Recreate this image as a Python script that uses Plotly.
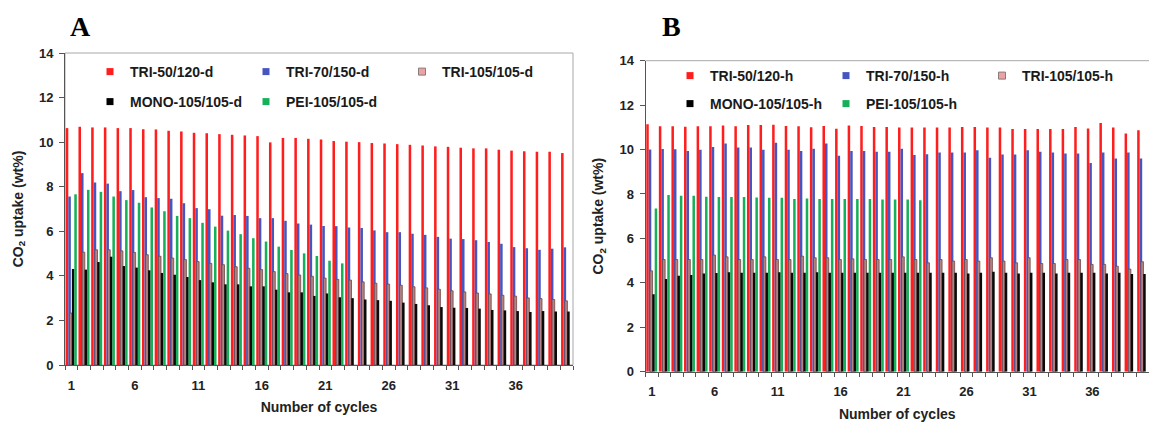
import plotly.graph_objects as go

# ---------------- data ----------------
cycles = list(range(1, 41))
tick_labels = [1, 6, 11, 16, 21, 26, 31, 36]

names_a = ["TRI-50/120-d", "TRI-70/150-d", "TRI-105/105-d", "MONO-105/105-d", "PEI-105/105-d"]
names_b = ["TRI-50/120-h", "TRI-70/150-h", "TRI-105/105-h", "MONO-105/105-h", "PEI-105/105-h"]

a_tri50 = [10.63, 10.69, 10.66, 10.66, 10.63, 10.63, 10.58, 10.57, 10.51, 10.48,
           10.42, 10.40, 10.36, 10.33, 10.30, 10.27, 9.99, 10.19, 10.19, 10.15,
           10.12, 10.05, 10.02, 10.00, 9.96, 9.94, 9.91, 9.88, 9.85, 9.81,
           9.79, 9.75, 9.72, 9.72, 9.66, 9.62, 9.59, 9.57, 9.57, 9.51]
a_tri70 = [7.56, 8.61, 8.19, 8.14, 7.80, 7.85, 7.53, 7.49, 7.46, 7.26,
           7.04, 6.99, 6.70, 6.73, 6.69, 6.59, 6.59, 6.47, 6.35, 6.30,
           6.24, 6.23, 6.17, 6.15, 6.04, 5.96, 5.96, 5.89, 5.84, 5.75,
           5.67, 5.65, 5.60, 5.52, 5.44, 5.29, 5.24, 5.17, 5.22, 5.28]
a_tri105 = [2.33, 5.06, 5.17, 5.17, 5.12, 5.05, 4.95, 4.88, 4.80, 4.73,
            4.64, 4.56, 4.50, 4.41, 4.34, 4.28, 4.19, 4.10, 4.04, 3.98,
            3.90, 3.84, 3.81, 3.73, 3.67, 3.63, 3.58, 3.51, 3.46, 3.40,
            3.33, 3.28, 3.23, 3.19, 3.13, 3.09, 3.01, 2.98, 2.94, 2.88]
a_mono = [4.31, 4.28, 4.62, 4.86, 4.44, 4.37, 4.25, 4.13, 4.05, 3.95,
          3.81, 3.71, 3.62, 3.62, 3.53, 3.53, 3.38, 3.26, 3.26, 3.10,
          3.21, 3.04, 3.00, 2.94, 2.91, 2.88, 2.80, 2.74, 2.68, 2.60,
          2.57, 2.56, 2.53, 2.47, 2.45, 2.42, 2.38, 2.42, 2.40, 2.40]
a_pei = [7.66, 7.86, 7.77, 7.56, 7.40, 7.28, 7.07, 6.90, 6.69, 6.59,
         6.38, 6.21, 6.03, 5.87, 5.69, 5.54, 5.31, 5.16, 5.01, 4.89,
         4.68, 4.56]

b_tri50 = [11.14, 11.05, 11.05, 11.03, 11.05, 11.05, 11.08, 11.05, 11.11, 11.11,
           11.12, 11.06, 11.05, 11.00, 11.06, 10.94, 11.08, 11.06, 11.02, 11.02,
           10.99, 10.99, 10.99, 10.99, 10.99, 11.02, 11.02, 10.99, 10.99, 10.93,
           10.93, 10.93, 10.93, 10.93, 11.02, 10.95, 11.20, 10.99, 10.72, 10.87]
b_tri70 = [10.00, 10.03, 10.01, 9.94, 9.99, 10.12, 10.27, 10.09, 10.09, 9.99,
           10.31, 9.99, 9.94, 10.04, 10.27, 9.72, 9.94, 9.94, 9.90, 9.90,
           10.04, 9.75, 9.79, 9.87, 9.87, 9.87, 9.97, 9.63, 9.78, 9.78,
           9.97, 9.90, 9.87, 9.82, 9.82, 9.40, 9.87, 9.60, 9.87, 9.60]
b_tri105 = [4.54, 5.05, 5.05, 5.05, 5.05, 5.25, 5.17, 5.05, 5.05, 5.17,
            5.05, 5.05, 5.20, 5.13, 5.13, 5.05, 5.08, 5.05, 5.05, 5.05,
            5.17, 5.05, 4.90, 5.05, 4.98, 5.05, 4.98, 5.13, 4.98, 4.90,
            5.13, 4.87, 4.87, 5.05, 5.05, 4.83, 4.83, 4.75, 4.62, 4.95]
b_mono = [3.49, 4.17, 4.32, 4.35, 4.42, 4.44, 4.48, 4.45, 4.45, 4.45,
          4.48, 4.45, 4.45, 4.48, 4.45, 4.45, 4.45, 4.45, 4.45, 4.45,
          4.45, 4.45, 4.45, 4.45, 4.45, 4.42, 4.45, 4.50, 4.45, 4.42,
          4.45, 4.45, 4.42, 4.45, 4.45, 4.45, 4.42, 4.45, 4.40, 4.40]
b_pei = [7.35, 7.95, 7.92, 7.92, 7.87, 7.86, 7.86, 7.86, 7.84, 7.83,
         7.83, 7.77, 7.80, 7.77, 7.77, 7.77, 7.77, 7.77, 7.75, 7.75,
         7.75, 7.72]

# ---------------- styles ----------------
bar_colors = ["#ff1e1e", "#4656be", "#b48484", "#0a0a0a", "#16b05a"]
bar_lines = [None, None, "#6e4848", None, None]
legend_colors = ["#ff1e1e", "#4656be", "#eaa2a2", "#000000", "#16b05a"]
legend_lines = [None, None, "#8a7a7a", None, None]
offsets = [-0.44, -0.24, -0.15, 0.04, 0.23]
widths = [0.20, 0.20, 0.21, 0.20, 0.20]
FONT = "Liberation Sans, Arial, sans-serif"

fig = go.Figure()

def add_panel(series, names, xa, ya, leg1, leg2):
    for i, (vals, nm) in enumerate(zip(series, names)):
        lw = 0.8 if bar_lines[i] else 0
        fig.add_trace(go.Bar(
            x=cycles[:len(vals)], y=vals, name=nm,
            xaxis=xa, yaxis=ya,
            offset=offsets[i], width=widths[i],
            marker=dict(color=bar_colors[i],
                        line=dict(color=bar_lines[i] or bar_colors[i], width=lw)),
            showlegend=False, legendgroup=nm,
        ))
    # legend keys (small square swatches, like the original)
    for i, nm in enumerate(names):
        fig.add_trace(go.Scatter(
            x=[None], y=[None], name=nm, mode="markers",
            xaxis=xa, yaxis=ya,
            marker=dict(symbol="square", size=7, color=legend_colors[i],
                        line=dict(color=legend_lines[i] or legend_colors[i],
                                  width=1 if legend_lines[i] else 0)),
            legend=leg1 if i < 3 else leg2, legendgroup=nm, showlegend=True,
        ))

add_panel([a_tri50, a_tri70, a_tri105, a_mono, a_pei], names_a, "x", "y", "legend", "legend2")
add_panel([b_tri50, b_tri70, b_tri105, b_mono, b_pei], names_b, "x2", "y2", "legend3", "legend4")

W, H = 1149, 425

def px_x(p):
    return p / W

def px_y(p):
    return (H - p) / H

tickfont = dict(family=FONT, size=13, color="#222", weight="bold")
titlefont = dict(family=FONT, size=14, color="#222", weight="bold")

def xaxis_cfg(domain, anchor):
    return dict(domain=domain, anchor=anchor, range=[0.5, 40.5], automargin=False,
                tickmode="array", tickvals=tick_labels, ticks="",
                showline=True, linecolor="#555", linewidth=1,
                showgrid=False, zeroline=False,
                minor=dict(tickmode="linear", tick0=0.5, dtick=1, ticks="outside",
                           ticklen=4, tickcolor="#555", showgrid=False),
                tickfont=tickfont, ticklabelstandoff=8,
                title=dict(text="Number of cycles", font=titlefont, standoff=10))

def yaxis_cfg(domain, anchor):
    return dict(domain=domain, anchor=anchor, range=[0, 14], dtick=2, automargin=False,
                ticks="outside", ticklen=5, tickcolor="#555",
                showline=True, linecolor="#555", linewidth=1,
                showgrid=False, zeroline=False,
                tickfont=tickfont, ticklabelstandoff=3,
                title=dict(text="CO<sub>2</sub> uptake (wt%)", font=titlefont, standoff=12))

leg_font = dict(family=FONT, size=14, color="#1a1a1a", weight="bold")

def legend_cfg(x, y):
    return dict(orientation="h", x=x, y=y, xanchor="left", yanchor="middle",
                xref="paper", yref="paper", bgcolor="rgba(0,0,0,0)",
                font=leg_font, entrywidth=111, entrywidthmode="pixels",
                itemwidth=30, itemsizing="trace",
                itemclick=False, itemdoubleclick=False, traceorder="normal")

fig.update_layout(
    template="none",
    width=W, height=H,
    margin=dict(l=0, r=0, t=0, b=0, autoexpand=False),
    paper_bgcolor="white", plot_bgcolor="white",
    barmode="overlay",
    xaxis=xaxis_cfg([px_x(65), px_x(573)], "y"),
    yaxis=yaxis_cfg([px_y(365), px_y(53)], "x"),
    xaxis2=xaxis_cfg([px_x(645.5), 1.0], "y2"),
    yaxis2=yaxis_cfg([px_y(371.7), px_y(60.7)], "x2"),
    legend=legend_cfg(px_x(90), px_y(72)),
    legend2=legend_cfg(px_x(90), px_y(102)),
    legend3=legend_cfg(px_x(670), px_y(76)),
    legend4=legend_cfg(px_x(670), px_y(104)),
    showlegend=True,
    shapes=[
        dict(type="rect", xref="x domain", yref="y domain", x0=0, x1=1, y0=0, y1=1,
             line=dict(color="#a8a8a8", width=1), layer="below"),
        dict(type="line", xref="x2 domain", yref="y2 domain", x0=0, x1=1, y0=1, y1=1,
             line=dict(color="#a8a8a8", width=1), layer="below"),
    ],
    annotations=[
        dict(text="<b>A</b>", x=px_x(80), y=px_y(27), xref="paper", yref="paper",
             xanchor="center", yanchor="middle",
             showarrow=False, font=dict(family="Liberation Serif, Times New Roman, serif", size=28, color="#000")),
        dict(text="<b>B</b>", x=px_x(671), y=px_y(27), xref="paper", yref="paper",
             xanchor="center", yanchor="middle",
             showarrow=False, font=dict(family="Liberation Serif, Times New Roman, serif", size=28, color="#000")),
    ],
)

fig.write_html("out.html")
